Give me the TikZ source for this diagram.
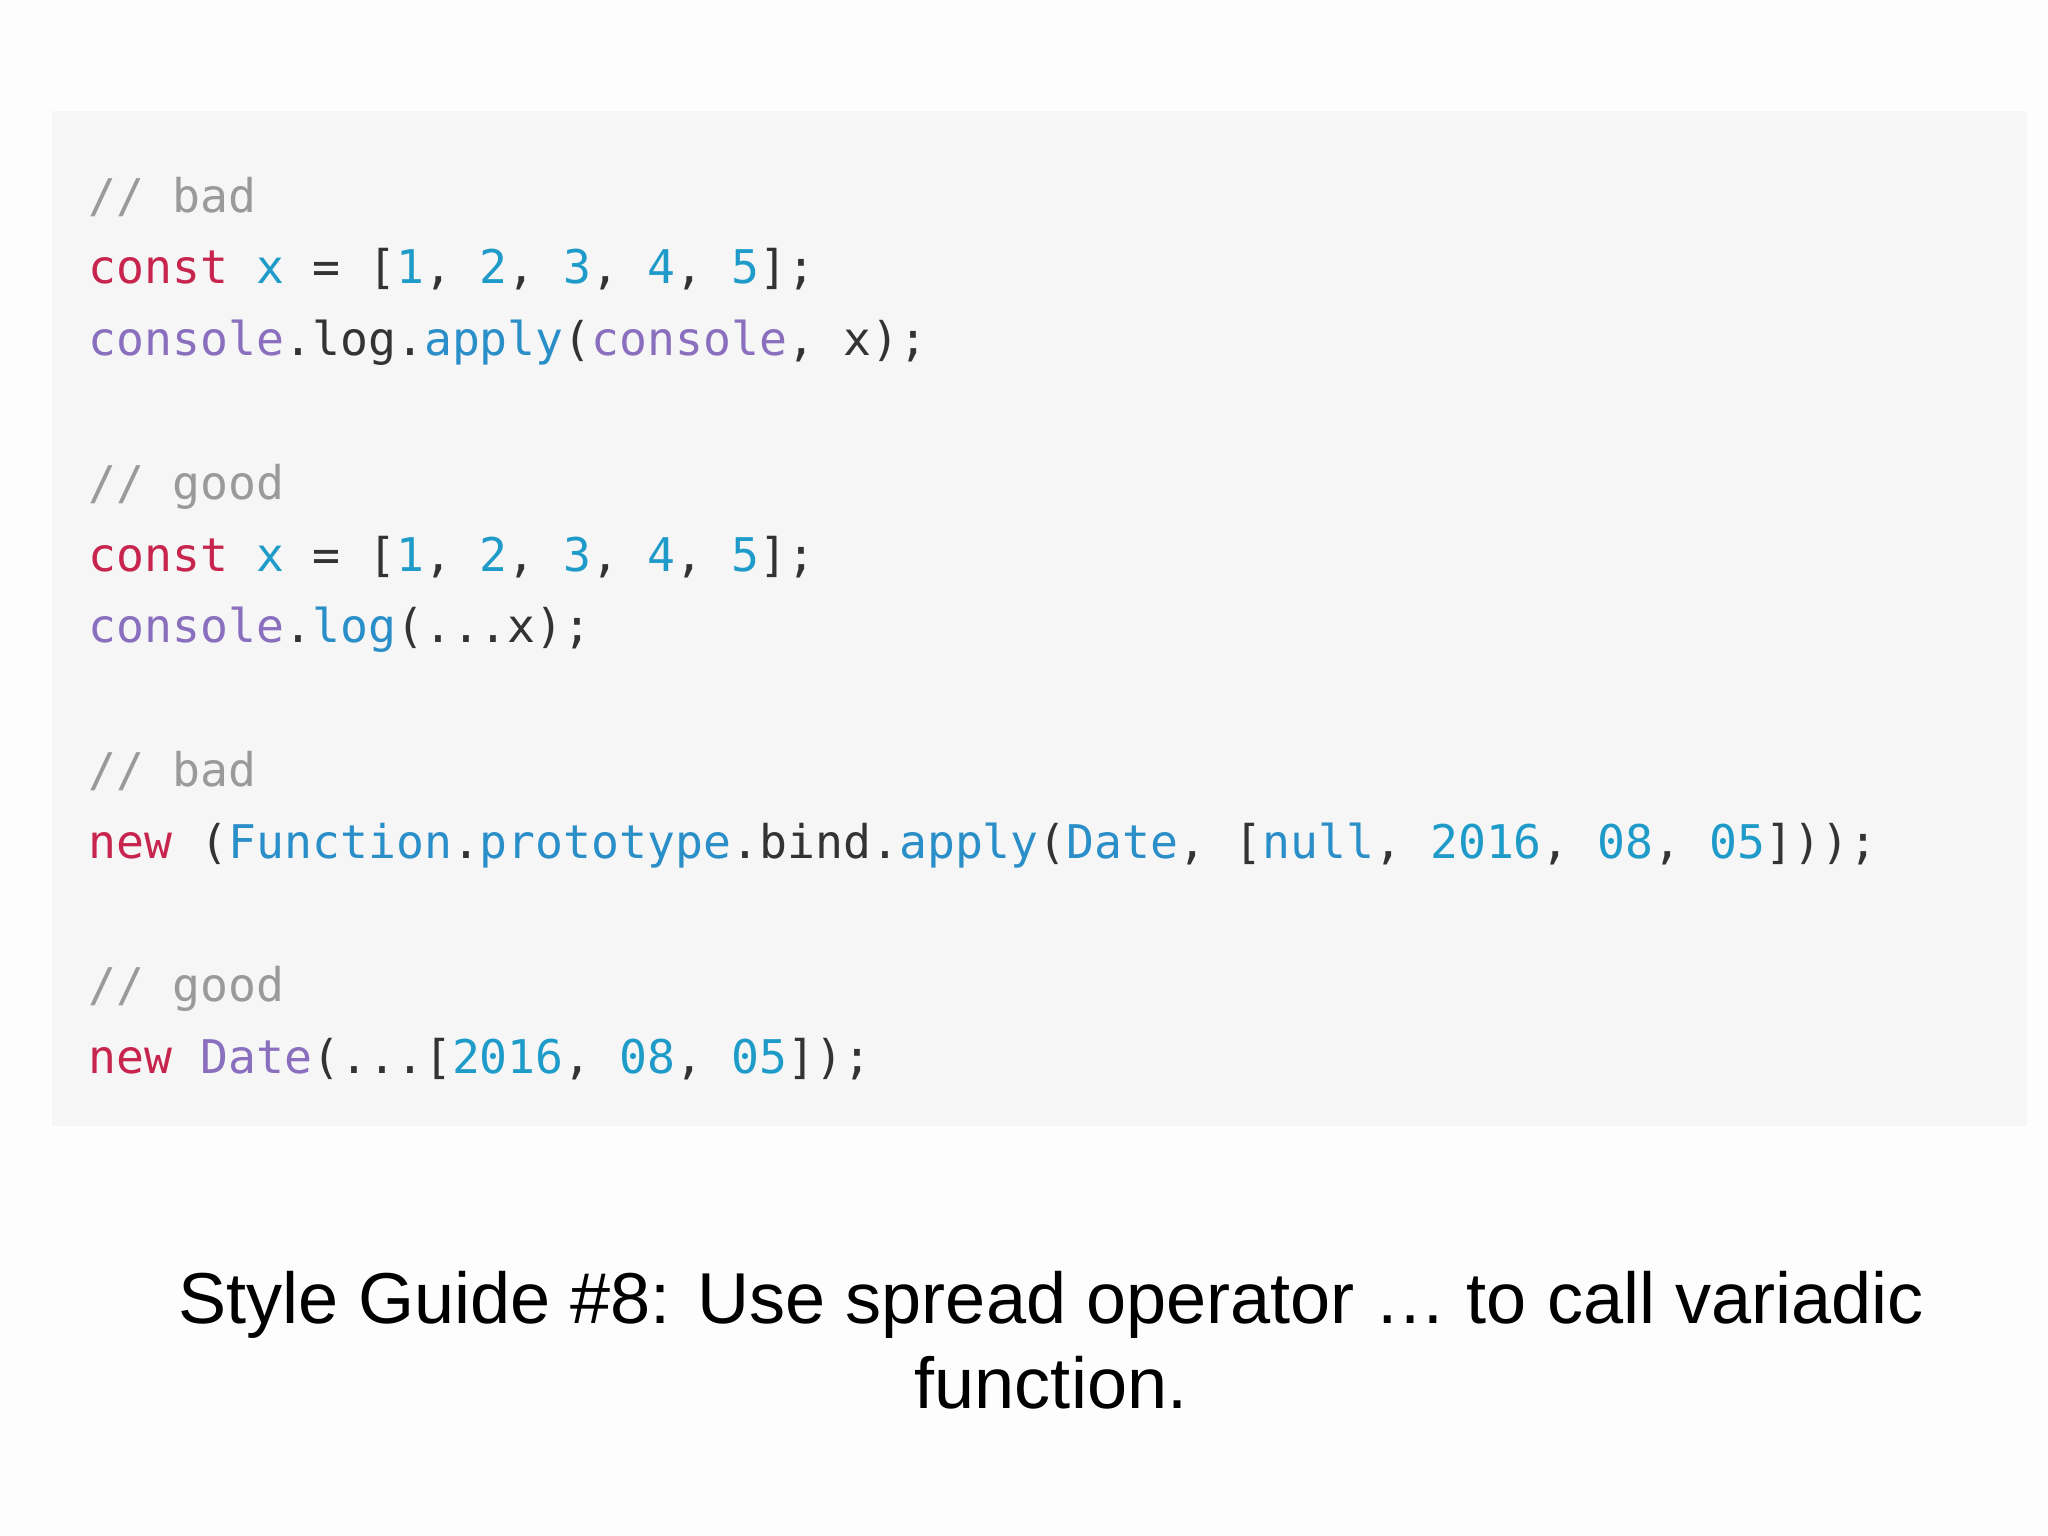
\documentclass[tikz,border=0pt]{standalone}
\usepackage{fontspec}
\setmainfont{Liberation Sans}
\setmonofont{DejaVu Sans Mono}
\definecolor{cm}{HTML}{9A9A9A}
\definecolor{kw}{HTML}{C7254E}
\definecolor{nm}{HTML}{1E9BC8}
\definecolor{pu}{HTML}{8A6FBF}
\definecolor{fn}{HTML}{2A8FC8}
\definecolor{tx}{HTML}{333333}
\definecolor{bx}{HTML}{F6F6F6}
\definecolor{bg}{HTML}{FDFDFD}
\tikzset{code/.style={anchor=base west,inner sep=0pt,font=\ttfamily\fontsize{13.2pt}{15pt}\selectfont,text=tx},
captext/.style={align=center,inner sep=0pt,font=\fontsize{20.5pt}{24.2pt}\selectfont,text=black}}
\begin{document}
\begin{tikzpicture}[x=0.01cm,y=-0.01cm]
\fill[bg] (0,0) rectangle (2048,1536);
\useasboundingbox (0,0) rectangle (2048,1536);
\fill[bx] (52,111) rectangle (2027,1126);
\def\L#1{212+71.8*#1}
\node[code] (l1) at (88,{\L0}) {\textcolor{cm}{// bad}};
\node[code] (l2) at (88,{\L1}) {\textcolor{kw}{const} \textcolor{nm}{x} = [\textcolor{nm}{1}, \textcolor{nm}{2}, \textcolor{nm}{3}, \textcolor{nm}{4}, \textcolor{nm}{5}];};
\node[code] (l3) at (88,{\L2}) {\textcolor{pu}{console}.log.\textcolor{fn}{apply}(\textcolor{pu}{console}, x);};
\node[code] (l5) at (88,{\L4}) {\textcolor{cm}{// good}};
\node[code] (l6) at (88,{\L5}) {\textcolor{kw}{const} \textcolor{nm}{x} = [\textcolor{nm}{1}, \textcolor{nm}{2}, \textcolor{nm}{3}, \textcolor{nm}{4}, \textcolor{nm}{5}];};
\node[code] (l7) at (88,{\L6}) {\textcolor{pu}{console}.\textcolor{fn}{log}(...x);};
\node[code] (l9) at (88,{\L8}) {\textcolor{cm}{// bad}};
\node[code] (l10) at (88,{\L9}) {\textcolor{kw}{new} (\textcolor{fn}{Function}.\textcolor{fn}{prototype}.bind.\textcolor{fn}{apply}(\textcolor{fn}{Date}, [\textcolor{fn}{null}, \textcolor{nm}{2016}, \textcolor{nm}{08}, \textcolor{nm}{05}]));};
\node[code] (l12) at (88,{\L11}) {\textcolor{cm}{// good}};
\node[code] (l13) at (88,{\L12}) {\textcolor{kw}{new} \textcolor{pu}{Date}(...[\textcolor{nm}{2016}, \textcolor{nm}{08}, \textcolor{nm}{05}]);};
\node[captext] (c) at (1051,1340) {Style Guide \#8: Use spread operator … to call variadic\\function.};
\end{tikzpicture}
\end{document}
